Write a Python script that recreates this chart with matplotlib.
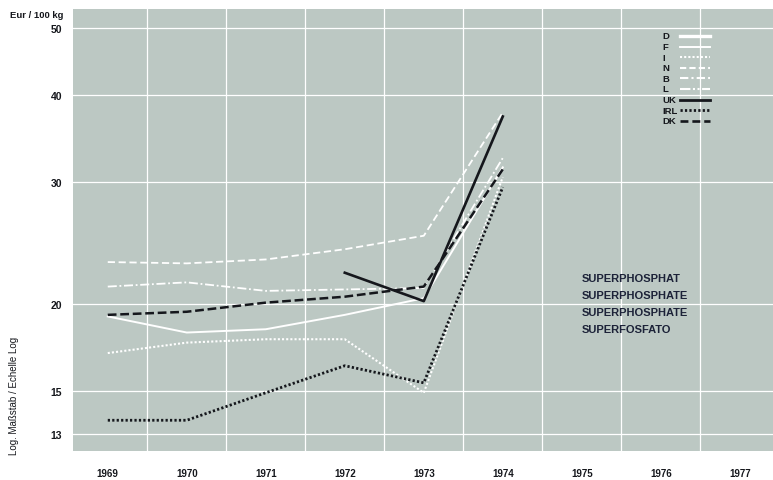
import numpy as np
import matplotlib
matplotlib.use("Agg")
import matplotlib.pyplot as plt
from matplotlib.lines import Line2D

# Superphosphate prices, Eur / 100 kg
years = [1969, 1970, 1971, 1972, 1973, 1974]
price_d = [19.2, 18.2, 18.4, 19.3, 20.4, 31.5]
price_i = [17.0, 17.6, 17.8, 17.8, 14.9, 30.5]
price_n = [23.0, 22.9, 23.2, 24.0, 25.1, 37.8]
price_l = [21.2, 21.5, 20.9, 21.0, 21.1, 32.5]
price_uk = [np.nan, np.nan, np.nan, 22.2, 20.2, 37.3]
price_irl = [13.6, 13.6, 14.9, 16.3, 15.4, 29.5]
price_dk = [19.3, 19.5, 20.1, 20.5, 21.2, 31.3]

year_ticks = list(range(1969, 1978))
y_ticks = [13, 15, 20, 30, 40, 50]
product_names = ["SUPERPHOSPHAT", "SUPERPHOSPHATE", "SUPERPHOSPHATE", "SUPERFOSFATO"]
legend_labels = ["D", "F", "I", "N", "B", "L", "UK", "IRL", "DK"]

BLACK = "#15171c"
plt.rcParams["font.family"] = ["Liberation Sans", "DejaVu Sans"]

W, H = 773, 481
fig = plt.figure(figsize=(W / 100, H / 100), dpi=100)
ax = fig.add_axes([73 / W, 1 - 452 / H, 1 - 73 / W, (452 - 10) / H])
ax.set_facecolor("#bcc8c3")

ax.set_yscale("log")
ax.set_ylim(12.28, 53.3)
ax.set_xlim(1968.56, 1977.42)

# white grid: horizontal at ticks, vertical between years
for v in y_ticks:
    ax.axhline(v, color="white", lw=0.9, zorder=1)
for yr in year_ticks[:-1]:
    ax.axvline(yr + 0.5, color="white", lw=0.9, zorder=1)

ax.set_yticks(y_ticks)
ax.set_yticklabels([str(v) for v in y_ticks], fontsize=7.5, fontweight="bold")
ax.yaxis.set_minor_locator(matplotlib.ticker.NullLocator())
ax.set_xticks(year_ticks)
ax.set_xticklabels([str(y) for y in year_ticks], fontsize=7, fontweight="bold")
ax.tick_params(axis="both", length=0, labelcolor=BLACK)
ax.tick_params(axis="y", pad=8)
ax.tick_params(axis="x", pad=12)
for s in ax.spines.values():
    s.set_visible(False)

# white series
ax.plot(years, price_n, color="white", lw=1.3, ls=(0, (4, 2)), zorder=2)
ax.plot(years, price_l, color="white", lw=1.3, ls=(0, (5, 1.5, 1, 1.5)), zorder=2)
ax.plot(years, price_d, color="white", lw=1.4, zorder=2)
ax.plot(years, price_i, color="white", lw=1.5, ls=(0, (1, 1)), zorder=2)

# black series
ax.plot(years, price_dk, color=BLACK, lw=1.8, ls=(0, (3.5, 1.5)), zorder=3)
ax.plot(years, price_irl, color=BLACK, lw=2.0, ls=(0, (0.8, 0.8)), zorder=3)
ax.plot(years, price_uk, color=BLACK, lw=1.9, zorder=4)

# legend drawn by hand: labels left aligned, sample lines to the right
legend_styles = [
    ("white", 2.4, "-"),
    ("white", 1.4, "-"),
    ("white", 1.5, (0, (1, 1))),
    ("white", 1.5, (0, (3, 1.5))),
    ("white", 1.5, (0, (4, 1.5, 1, 1.5))),
    ("white", 1.5, (0, (5, 1.2, 1, 1.2, 1, 1.2))),
    (BLACK, 2.0, "-"),
    (BLACK, 2.0, (0, (0.8, 0.8))),
    (BLACK, 1.9, (0, (3, 1.5))),
]
for i, (lab, (col, lw, ls)) in enumerate(zip(legend_labels, legend_styles)):
    yy = 1 - (37 + i * 10.6) / H
    fig.text(662 / W, yy, lab, fontsize=6.8, fontweight="bold", color=BLACK,
             ha="left", va="center")
    fig.add_artist(Line2D([680 / W, 710 / W], [yy, yy], color=col, lw=lw, ls=ls,
                          transform=fig.transFigure))

for i, name in enumerate(product_names):
    fig.text(582 / W, 1 - (279 + i * 17) / H, name, fontsize=8, fontweight="bold",
             color="#1c2238", va="center", ha="left")

fig.text(37 / W, 1 - 16 / H, "Eur / 100 kg", fontsize=6.8, fontweight="bold",
         ha="center", va="center", color=BLACK)
fig.text(14 / W, 1 - 455 / H, "Log. Maßstab / Echelle Log", fontsize=7,
         rotation=90, ha="center", va="bottom", color=BLACK)

fig.savefig("out.png", dpi=100)
